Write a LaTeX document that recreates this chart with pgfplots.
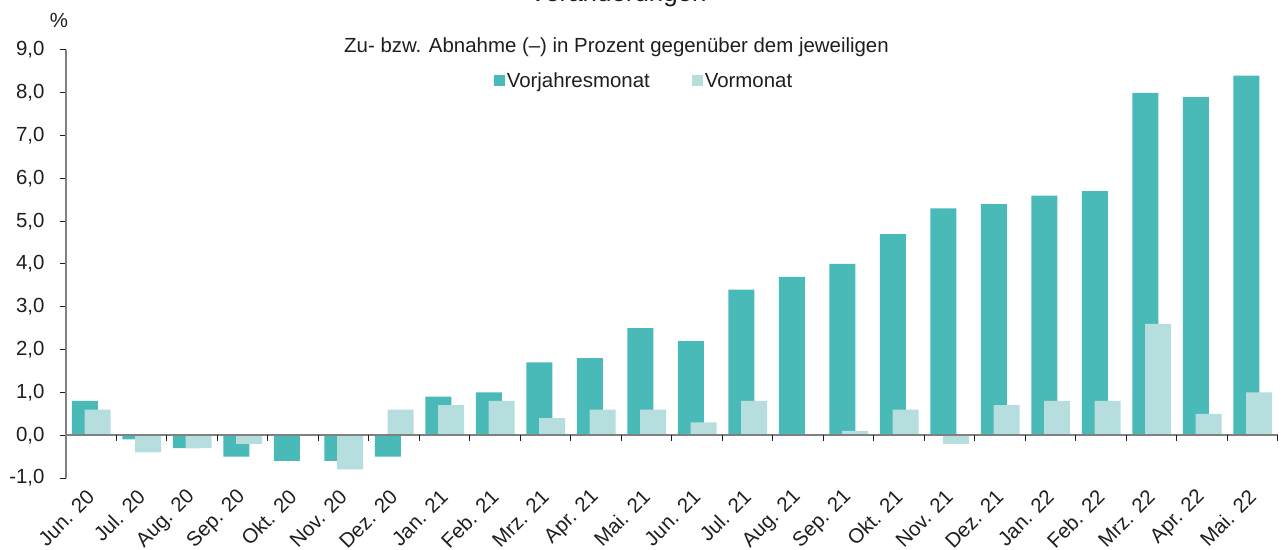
\documentclass[border=0pt]{standalone}
\usepackage{pgfplots}
\pgfplotsset{compat=1.18}
\usepackage{fontspec}
\setmainfont{Liberation Sans}
\definecolor{darkteal}{RGB}{74,186,184}
\definecolor{lightteal}{RGB}{182,222,222}
\definecolor{axgray}{RGB}{128,128,128}
\definecolor{txt}{RGB}{30,30,30}
\begin{document}
\begin{tikzpicture}[font=\fontsize{20.5}{24}\selectfont, text=txt]
\begin{axis}[
  scale only axis, width=1212bp, height=428bp,
  at={(0,0)}, anchor=south west,
  xmin=-0.5, xmax=23.5, ymin=-1, ymax=9,
  axis x line*=bottom, axis y line*=left,
  x axis line style={draw=none},
  y axis line style={axgray, line width=1.2bp, -},
  ytick={-1,0,...,9},
  y tick style={txt, line width=1bp},
  tick align=outside, major tick length=6bp,
  yticklabel style={xshift=-12bp, /pgf/number format/.cd, fixed, fixed zerofill, precision=1, use comma, assume math mode=true},
  xtick={0,...,23},
  x tick style={draw=none},
  xticklabels={Jun. 20, Jul. 20, Aug. 20, Sep. 20, Okt. 20, Nov. 20, Dez. 20, Jan. 21, Feb. 21, Mrz. 21, Apr. 21, Mai. 21, Jun. 21, Jul. 21, Aug. 21, Sep. 21, Okt. 21, Nov. 21, Dez. 21, Jan. 22, Feb. 22, Mrz. 22, Apr. 22, Mai. 22},
  xticklabel style={yshift=-8bp, xshift=1bp, rotate=45, anchor=east, inner sep=2bp},
  clip=false,
  legend style={at={(rel axis cs:0.4769,0.9276)}, anchor=center, draw=none, fill=none,
    legend columns=2, /tikz/every even column/.append style={column sep=40bp},
    font=\fontsize{20.5}{24}\selectfont},
  legend cell align=left,
  legend image code/.code={\fill[#1] (0bp,-5.5bp) rectangle (11bp,5.5bp);},
]
\addplot[ybar, bar width=0.515, bar shift=-0.128, fill=darkteal, draw=none] coordinates {
(0,0.8) (1,-0.1) (2,-0.3) (3,-0.5) (4,-0.6) (5,-0.6) (6,-0.5) (7,0.9) (8,1.0) (9,1.7) (10,1.8) (11,2.5)
(12,2.2) (13,3.4) (14,3.7) (15,4.0) (16,4.7) (17,5.3) (18,5.4) (19,5.6) (20,5.7) (21,8.0) (22,7.9) (23,8.4)};
\addlegendentry{Vorjahresmonat}
\addplot[ybar, bar width=0.515, bar shift=0.128, fill=lightteal, draw=none] coordinates {
(0,0.6) (1,-0.4) (2,-0.3) (3,-0.2) (4,0.0) (5,-0.8) (6,0.6) (7,0.7) (8,0.8) (9,0.4) (10,0.6) (11,0.6)
(12,0.3) (13,0.8) (14,0.0) (15,0.1) (16,0.6) (17,-0.2) (18,0.7) (19,0.8) (20,0.8) (21,2.6) (22,0.5) (23,1.0)};
\addlegendentry{Vormonat}
\draw[axgray, line width=2bp] (axis cs:-0.5,0) -- (axis cs:23.5,0);
\pgfplotsinvokeforeach{0.5,1.5,...,23.5}{\draw[txt, line width=1bp] (axis cs:#1,0) -- ([yshift=-6bp]axis cs:#1,0);}
\end{axis}
\node[anchor=base] at (552bp,476bp) {\fontsize{26}{30}\selectfont Veränderungen};
\node at (550.5bp,431bp) {Zu- bzw. Abnahme (–) in Prozent gegenüber dem jeweiligen};
\node at (-7bp,458bp) {\%};
\pgfresetboundingbox
\useasboundingbox (-66bp,-72bp) rectangle (1218bp,478bp);
\end{tikzpicture}
\end{document}
